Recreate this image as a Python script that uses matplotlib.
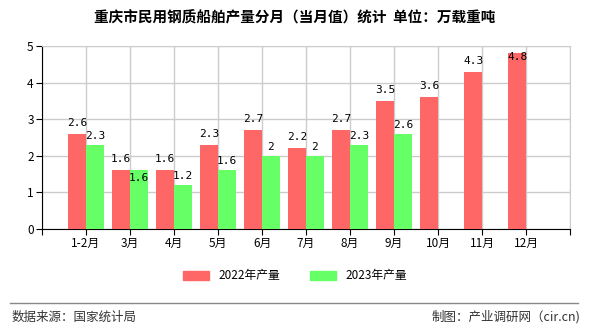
import matplotlib
matplotlib.use("Agg")
import matplotlib.pyplot as plt
import numpy as np
from matplotlib.patches import Patch

plt.rcParams['font.family'] = ['Noto Sans CJK SC', 'DejaVu Sans']

months = ["1-2月", "3月", "4月", "5月", "6月", "7月", "8月", "9月", "10月", "11月", "12月"]
prod_2022 = [2.6, 1.6, 1.6, 2.3, 2.7, 2.2, 2.7, 3.5, 3.6, 4.3, 4.8]
prod_2023 = [2.3, 1.6, 1.2, 1.6, 2.0, 2.0, 2.3, 2.6]

RED = "#ff6666"
GREEN = "#66ff66"

fig = plt.figure(figsize=(5.9, 3.3), dpi=100)
ax = fig.add_axes([42 / 590, 1 - 229 / 330, 528 / 590, 183 / 330])

x = np.arange(len(months))
w = 0.4
ax.bar(x[:len(prod_2022)] - w / 2, prod_2022, width=w, color=RED, zorder=3)
ax.bar(x[:len(prod_2023)] + w / 2, prod_2023, width=w, color=GREEN, zorder=3)

def fmt(v):
    return f"{v:g}"

for xi, v in zip(x, prod_2022):
    y = min(v + 0.3, 4.7)
    ax.text(xi - w / 2, y, fmt(v), ha="center", va="center", fontsize=8,
            family="DejaVu Sans Mono", zorder=4)
for xi, v, r in zip(x, prod_2023, prod_2022):
    # same height as the red label -> drop it into the bar, as the source does
    y = v - 0.2 if abs(v - r) < 0.05 else v + 0.25
    ax.text(xi + w / 2, y, fmt(v), ha="center", va="center", fontsize=8,
            family="DejaVu Sans Mono", zorder=4)

ax.set_xlim(-1, len(months))
ax.set_ylim(0, 5)
ax.set_xticks(list(x) + [-1, len(months)])
ax.set_xticklabels(months + ["", ""], fontsize=8.5)
ax.set_yticks(range(6))
ax.tick_params(axis="y", labelsize=8.5, length=4, direction="out", pad=2)
ax.tick_params(axis="x", length=4, direction="out", pad=2)
ax.grid(True, color="#cccccc", linewidth=1, zorder=0)
for s in ["top", "right"]:
    ax.spines[s].set_color("#cccccc")
for s in ["left", "bottom"]:
    ax.spines[s].set_color("black")

fig.text(0.5, 1 - 17 / 330, "重庆市民用钢质船舶产量分月（当月值）统计  单位：万载重吨",
         ha="center", va="center", fontsize=10.5, weight="bold")

handles = [Patch(color=RED), Patch(color=GREEN)]
fig.legend(handles, ["2022年产量", "2023年产量"], loc="center",
           bbox_to_anchor=(0.5, 1 - 276 / 330), ncol=2, frameon=False,
           fontsize=8.5, handlelength=2.2, handleheight=0.9, columnspacing=2.5)

fig.add_artist(plt.Line2D([10 / 590, 578 / 590], [1 - 303 / 330] * 2,
                          color="#888888", linewidth=1))
fig.text(12 / 590, 1 - 317 / 330, "数据来源：国家统计局", ha="left", va="center",
         fontsize=9, color="#333333")
fig.text(580 / 590, 1 - 317 / 330, "制图：产业调研网（cir.cn)", ha="right", va="center",
         fontsize=9, color="#333333")

fig.savefig("out.png", dpi=100)
